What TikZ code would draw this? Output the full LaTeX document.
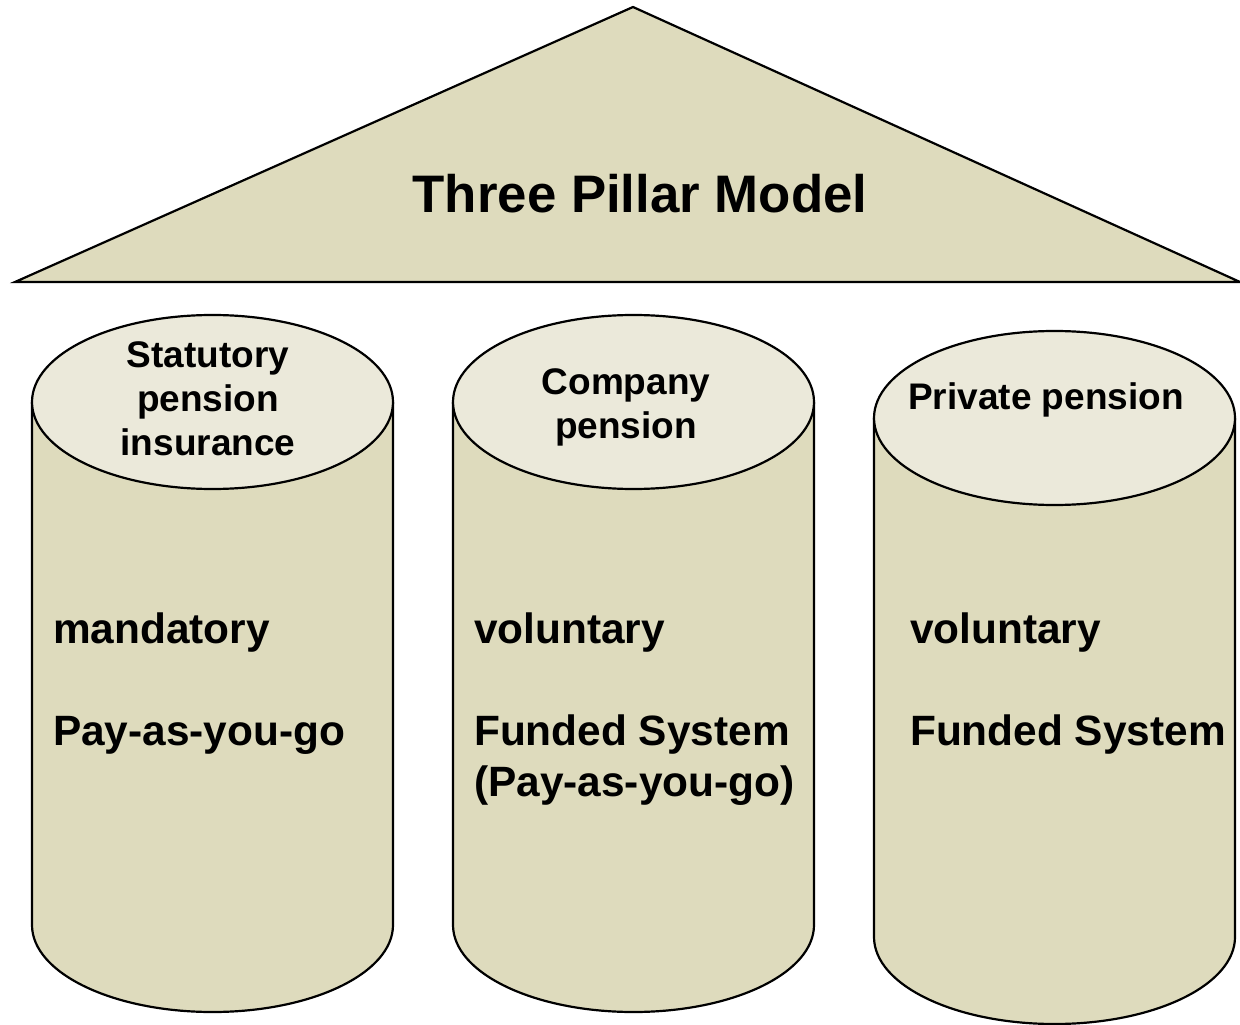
\documentclass[tikz,border=0pt]{standalone}
\usepackage{fontspec}
\setmainfont{Liberation Sans}

\definecolor{pillarbody}{RGB}{222,219,189}
\definecolor{pillartop}{RGB}{235,233,218}

\tikzset{
  rooflabel/.style={font=\bfseries\fontsize{26.4}{31.7}\selectfont, anchor=base, inner sep=0pt},
  toplabel/.style={font=\bfseries\fontsize{18.5}{21.8}\selectfont, align=center, anchor=base, inner sep=0pt},
  bodylabel/.style={font=\bfseries\fontsize{21.2}{25.5}\selectfont, align=left, anchor=base west, inner sep=0pt},
}

\begin{document}
\begin{tikzpicture}[x=0.5pt, y=0.5pt, line width=1.1pt]
      \useasboundingbox (0,0) rectangle (1240,1024);

      % roof
      \draw[fill=pillarbody] (15,742) -- (633,1017) -- (1240,742) -- cycle;
      \node[rooflabel] (roof) at (640,811) {Three Pillar Model};

      % pillars: centre x / top y / bottom y
      \foreach \cx/\ct/\cb in {212.5/622/99, 633.5/622/99, 1054.5/606/87} {
        \draw[fill=pillarbody] (\cx-180.5,\ct) -- (\cx-180.5,\cb)
          arc[start angle=180, end angle=360, x radius=180.5, y radius=87]
          -- (\cx+180.5,\ct);
        \draw[fill=pillartop] (\cx,\ct) ellipse [x radius=180.5, y radius=87];
      }

      % pillar heads (base = last line)
      \node[toplabel] (statutory) at (208,569) {Statutory\\pension\\insurance};
      \node[toplabel] (company) at (626,586) {Company\\pension};
      \node[toplabel] (private) at (1046,615) {Private pension};

      % first pillar
      \node[bodylabel] (mandatory) at (52,381) {mandatory};
      \node[bodylabel] (paygo) at (52,279) {Pay-as-you-go};

      % second pillar
      \node[bodylabel] (voluntary) at (473,381) {voluntary};
      \node[bodylabel] (funded) at (473,228) {Funded System\\(Pay-as-you-go)};

      % third pillar
      \node[bodylabel] (privvoluntary) at (909,381) {voluntary};
      \node[bodylabel] (privfunded) at (909,279) {Funded System};
\end{tikzpicture}
\end{document}
